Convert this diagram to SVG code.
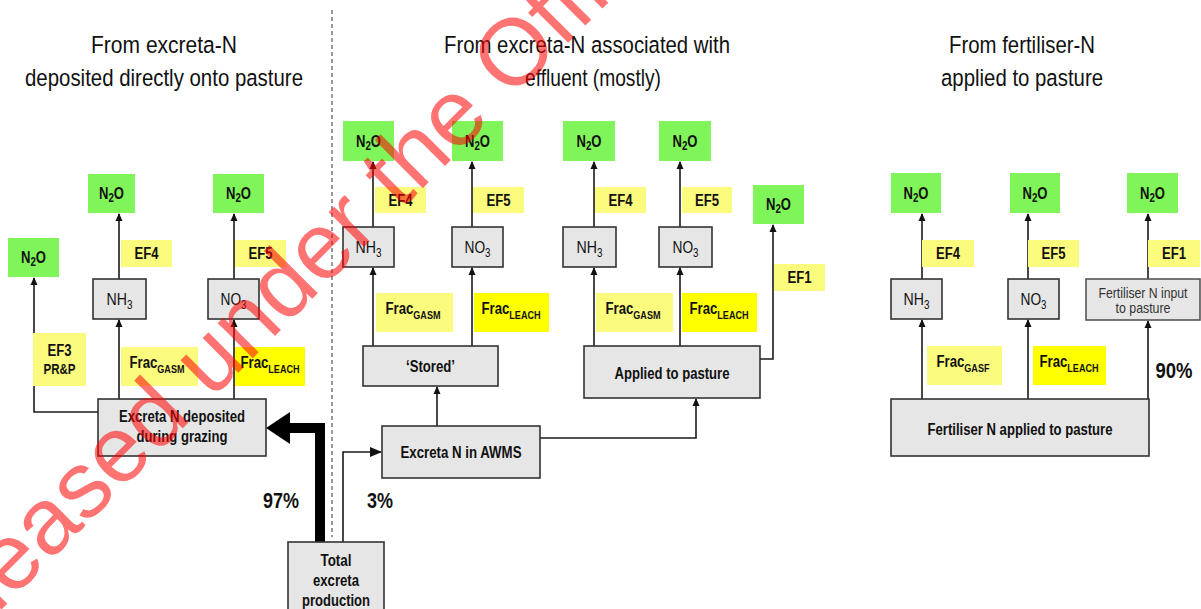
<svg xmlns="http://www.w3.org/2000/svg" width="1201" height="609" viewBox="0 0 1201 609">
<defs>
<marker id="ah" markerWidth="8" markerHeight="8" refX="7" refY="4" orient="auto" markerUnits="userSpaceOnUse">
<path d="M0,0.5 L8,4 L0,7.5 z" fill="#111"/>
</marker>
<marker id="ahb" markerWidth="12" markerHeight="12" refX="11" refY="6" orient="auto" markerUnits="userSpaceOnUse">
<path d="M0,1 L12,6 L0,11 z" fill="#111"/>
</marker>
<style>
text{font-family:"Liberation Sans",Arial,sans-serif;fill:#111}
.t{font-size:24.5px;text-anchor:middle}
.g{fill:#80f55a}
.y{fill:#fbfb7d}
.yy{fill:#ffff00}
.b{fill:#e6e6e6;stroke:#333;stroke-width:1.6}
.lb{font-size:16px;font-weight:bold;text-anchor:middle}
.ch{font-size:17px;text-anchor:middle}
.sub{font-size:11px}
.s2{font-size:12px}
.c{fill:none;stroke:#1a1a1a;stroke-width:1.6}
.pc{font-size:22px;font-weight:bold;text-anchor:middle}
.wm{font-family:"Liberation Sans",Arial,sans-serif;font-size:94px;fill:#ff0000;fill-opacity:0.55}
</style>
</defs>
<rect width="1201" height="609" fill="#fff"/>

<g id="titles">
<text class="t" x="164" y="53" textLength="146" lengthAdjust="spacingAndGlyphs">From excreta-N</text>
<text class="t" x="164" y="86" textLength="278" lengthAdjust="spacingAndGlyphs">deposited directly onto pasture</text>
<text class="t" x="587" y="53" textLength="286" lengthAdjust="spacingAndGlyphs">From excreta-N associated with</text>
<text class="t" x="593" y="86" textLength="136" lengthAdjust="spacingAndGlyphs">effluent (mostly)</text>
<text class="t" x="1022" y="53" textLength="146" lengthAdjust="spacingAndGlyphs">From fertiliser-N</text>
<text class="t" x="1022" y="86" textLength="162" lengthAdjust="spacingAndGlyphs">applied to pasture</text>
</g>
<line id="divider" x1="332" y1="10" x2="332" y2="537" stroke="#555" stroke-width="1.2" stroke-dasharray="4 3"/>

<g id="connectors">
<path class="c" d="M119,399 V320" marker-end="url(#ah)"/>
<path class="c" d="M119,279 V214" marker-end="url(#ah)"/>
<path class="c" d="M234,399 V320" marker-end="url(#ah)"/>
<path class="c" d="M234,279 V214" marker-end="url(#ah)"/>
<path class="c" d="M98,412 H34 V278" marker-end="url(#ah)"/>
<path d="M320,542 V428 H289" fill="none" stroke="#000" stroke-width="10"/>
<polygon points="290,412 266,428 290,444" fill="#000"/>
<path class="c" d="M343,542 V452 H381" stroke-width="2.4" marker-end="url(#ahb)"/>
<path class="c" d="M373,346 V268" marker-end="url(#ah)"/>
<path class="c" d="M373,227 V162" marker-end="url(#ah)"/>
<path class="c" d="M472,346 V268" marker-end="url(#ah)"/>
<path class="c" d="M472,227 V162" marker-end="url(#ah)"/>
<path class="c" d="M437,426 V387" marker-end="url(#ah)"/>
<path class="c" d="M540,438 H696 V399" marker-end="url(#ah)"/>
<path class="c" d="M594,346 V268" marker-end="url(#ah)"/>
<path class="c" d="M594,227 V162" marker-end="url(#ah)"/>
<path class="c" d="M680,346 V268" marker-end="url(#ah)"/>
<path class="c" d="M680,227 V162" marker-end="url(#ah)"/>
<path class="c" d="M760,359 H773 V225" marker-end="url(#ah)"/>
<path class="c" d="M922,399 V320" marker-end="url(#ah)"/>
<path class="c" d="M922,279 V214" marker-end="url(#ah)"/>
<path class="c" d="M1028,399 V320" marker-end="url(#ah)"/>
<path class="c" d="M1028,279 V214" marker-end="url(#ah)"/>
<path class="c" d="M1148,399 V321" marker-end="url(#ah)"/>
<path class="c" d="M1148,279 V214" marker-end="url(#ah)"/>
</g>

<!-- Left section -->
<g id="n2o-l1"><rect class="g" x="8" y="238" width="51" height="39"/><text class="lb" x="33.5" y="263" textLength="25" lengthAdjust="spacingAndGlyphs">N<tspan class="s2" dy="3">2</tspan><tspan dy="-3">O</tspan></text></g>
<g id="n2o-l2"><rect class="g" x="88" y="174" width="47" height="39"/><text class="lb" x="111.5" y="199" textLength="25" lengthAdjust="spacingAndGlyphs">N<tspan class="s2" dy="3">2</tspan><tspan dy="-3">O</tspan></text></g>
<g id="n2o-l3"><rect class="g" x="213" y="174" width="51" height="39"/><text class="lb" x="238.5" y="199" textLength="25" lengthAdjust="spacingAndGlyphs">N<tspan class="s2" dy="3">2</tspan><tspan dy="-3">O</tspan></text></g>
<g id="ef4-l"><rect class="y" x="121" y="240" width="51" height="27"/><text class="lb" x="146.5" y="259" textLength="24" lengthAdjust="spacingAndGlyphs">EF4</text></g>
<g id="ef5-l"><rect class="y" x="235" y="240" width="51" height="27"/><text class="lb" x="260.5" y="259" textLength="24" lengthAdjust="spacingAndGlyphs">EF5</text></g>
<g id="nh3-l"><rect class="b" x="93" y="279" width="53" height="40"/><text class="ch" x="119.5" y="305" textLength="26" lengthAdjust="spacingAndGlyphs">NH<tspan class="s2" dy="4">3</tspan></text></g>
<g id="no3-l"><rect class="b" x="208" y="279" width="51" height="40"/><text class="ch" x="233.5" y="305" textLength="26" lengthAdjust="spacingAndGlyphs">NO<tspan class="s2" dy="4">3</tspan></text></g>
<g id="ef3-l"><rect class="y" x="33" y="333" width="53" height="53"/><text class="lb" x="59.5" y="356" textLength="24" lengthAdjust="spacingAndGlyphs">EF3</text><text class="lb" x="59.5" y="374" style="font-size:14px" textLength="32" lengthAdjust="spacingAndGlyphs">PR&amp;P</text></g>
<g id="fracgasm-l"><rect class="y" x="121" y="347" width="77" height="39"/><text class="lb" x="157" y="368" textLength="55" lengthAdjust="spacingAndGlyphs">Frac<tspan class="sub" dy="5">GASM</tspan></text></g>
<g id="fracleach-l"><rect class="yy" x="235" y="347" width="70" height="39"/><text class="lb" x="270" y="368" textLength="59" lengthAdjust="spacingAndGlyphs">Frac<tspan class="sub" dy="5">LEACH</tspan></text></g>
<g id="excreta-grazing"><rect class="b" x="98" y="399" width="168" height="57"/><text class="lb" x="182" y="422" textLength="126" lengthAdjust="spacingAndGlyphs">Excreta N deposited</text><text class="lb" x="182" y="442" textLength="91" lengthAdjust="spacingAndGlyphs">during grazing</text></g>
<g id="total"><rect class="b" x="288" y="542" width="96" height="80"/><text class="lb" x="336" y="566" textLength="31" lengthAdjust="spacingAndGlyphs">Total</text><text class="lb" x="336" y="586" textLength="46" lengthAdjust="spacingAndGlyphs">excreta</text><text class="lb" x="336" y="606" textLength="68" lengthAdjust="spacingAndGlyphs">production</text></g>
<g id="pct97"><text class="pc" x="281" y="508" textLength="36" lengthAdjust="spacingAndGlyphs">97%</text></g>
<g id="pct3"><text class="pc" x="380" y="508" textLength="26" lengthAdjust="spacingAndGlyphs">3%</text></g>

<!-- Middle section -->
<g id="n2o-m1"><rect class="g" x="343" y="121" width="51" height="40"/><text class="lb" x="368.5" y="147" textLength="25" lengthAdjust="spacingAndGlyphs">N<tspan class="s2" dy="3">2</tspan><tspan dy="-3">O</tspan></text></g>
<g id="n2o-m2"><rect class="g" x="452" y="121" width="51" height="40"/><text class="lb" x="477.5" y="147" textLength="25" lengthAdjust="spacingAndGlyphs">N<tspan class="s2" dy="3">2</tspan><tspan dy="-3">O</tspan></text></g>
<g id="n2o-m3"><rect class="g" x="563" y="121" width="52" height="40"/><text class="lb" x="589" y="147" textLength="25" lengthAdjust="spacingAndGlyphs">N<tspan class="s2" dy="3">2</tspan><tspan dy="-3">O</tspan></text></g>
<g id="n2o-m4"><rect class="g" x="659" y="121" width="52" height="40"/><text class="lb" x="685" y="147" textLength="25" lengthAdjust="spacingAndGlyphs">N<tspan class="s2" dy="3">2</tspan><tspan dy="-3">O</tspan></text></g>
<g id="n2o-m5"><rect class="g" x="753" y="185" width="51" height="39"/><text class="lb" x="778.5" y="210" textLength="25" lengthAdjust="spacingAndGlyphs">N<tspan class="s2" dy="3">2</tspan><tspan dy="-3">O</tspan></text></g>
<g id="ef4-m1"><rect class="y" x="375" y="187" width="51" height="26"/><text class="lb" x="400.5" y="206" textLength="24" lengthAdjust="spacingAndGlyphs">EF4</text></g>
<g id="ef5-m1"><rect class="y" x="473" y="187" width="51" height="26"/><text class="lb" x="498.5" y="206" textLength="24" lengthAdjust="spacingAndGlyphs">EF5</text></g>
<g id="ef4-m2"><rect class="y" x="595" y="187" width="51" height="26"/><text class="lb" x="620.5" y="206" textLength="24" lengthAdjust="spacingAndGlyphs">EF4</text></g>
<g id="ef5-m2"><rect class="y" x="682" y="187" width="50" height="26"/><text class="lb" x="707" y="206" textLength="24" lengthAdjust="spacingAndGlyphs">EF5</text></g>
<g id="nh3-m1"><rect class="b" x="343" y="227" width="51" height="40"/><text class="ch" x="368.5" y="253" textLength="26" lengthAdjust="spacingAndGlyphs">NH<tspan class="s2" dy="4">3</tspan></text></g>
<g id="no3-m1"><rect class="b" x="452" y="227" width="51" height="40"/><text class="ch" x="477.5" y="253" textLength="26" lengthAdjust="spacingAndGlyphs">NO<tspan class="s2" dy="4">3</tspan></text></g>
<g id="nh3-m2"><rect class="b" x="563" y="227" width="53" height="40"/><text class="ch" x="589.5" y="253" textLength="26" lengthAdjust="spacingAndGlyphs">NH<tspan class="s2" dy="4">3</tspan></text></g>
<g id="no3-m2"><rect class="b" x="659" y="227" width="53" height="40"/><text class="ch" x="685.5" y="253" textLength="26" lengthAdjust="spacingAndGlyphs">NO<tspan class="s2" dy="4">3</tspan></text></g>
<g id="ef1-m"><rect class="y" x="774" y="264" width="51" height="27"/><text class="lb" x="799.5" y="283" textLength="24" lengthAdjust="spacingAndGlyphs">EF1</text></g>
<g id="fracgasm-m1"><rect class="y" x="376" y="293" width="77" height="39"/><text class="lb" x="413" y="314" textLength="55" lengthAdjust="spacingAndGlyphs">Frac<tspan class="sub" dy="5">GASM</tspan></text></g>
<g id="fracleach-m1"><rect class="yy" x="474" y="293" width="75" height="39"/><text class="lb" x="511" y="314" textLength="59" lengthAdjust="spacingAndGlyphs">Frac<tspan class="sub" dy="5">LEACH</tspan></text></g>
<g id="fracgasm-m2"><rect class="y" x="596" y="293" width="77" height="39"/><text class="lb" x="633" y="314" textLength="55" lengthAdjust="spacingAndGlyphs">Frac<tspan class="sub" dy="5">GASM</tspan></text></g>
<g id="fracleach-m2"><rect class="yy" x="682" y="293" width="75" height="39"/><text class="lb" x="719" y="314" textLength="59" lengthAdjust="spacingAndGlyphs">Frac<tspan class="sub" dy="5">LEACH</tspan></text></g>
<g id="stored"><rect class="b" x="363" y="346" width="135" height="40"/><text class="lb" x="430.5" y="372" textLength="49" lengthAdjust="spacingAndGlyphs">‘Stored’</text></g>
<g id="applied"><rect class="b" x="584" y="346" width="176" height="52"/><text class="lb" x="672" y="379" textLength="115" lengthAdjust="spacingAndGlyphs">Applied to pasture</text></g>
<g id="awms"><rect class="b" x="382" y="426" width="158" height="52"/><text class="lb" x="461" y="458" textLength="121" lengthAdjust="spacingAndGlyphs">Excreta N in AWMS</text></g>

<!-- Right section -->
<g id="n2o-r1"><rect class="g" x="891" y="173" width="50" height="40"/><text class="lb" x="916" y="199" textLength="25" lengthAdjust="spacingAndGlyphs">N<tspan class="s2" dy="3">2</tspan><tspan dy="-3">O</tspan></text></g>
<g id="n2o-r2"><rect class="g" x="1010" y="173" width="50" height="40"/><text class="lb" x="1035" y="199" textLength="25" lengthAdjust="spacingAndGlyphs">N<tspan class="s2" dy="3">2</tspan><tspan dy="-3">O</tspan></text></g>
<g id="n2o-r3"><rect class="g" x="1127" y="173" width="51" height="40"/><text class="lb" x="1152.5" y="199" textLength="25" lengthAdjust="spacingAndGlyphs">N<tspan class="s2" dy="3">2</tspan><tspan dy="-3">O</tspan></text></g>
<g id="ef4-r"><rect class="y" x="922" y="240" width="52" height="27"/><text class="lb" x="948" y="259" textLength="24" lengthAdjust="spacingAndGlyphs">EF4</text></g>
<g id="ef5-r"><rect class="y" x="1028" y="240" width="51" height="27"/><text class="lb" x="1053.5" y="259" textLength="24" lengthAdjust="spacingAndGlyphs">EF5</text></g>
<g id="ef1-r"><rect class="y" x="1148" y="240" width="52" height="27"/><text class="lb" x="1174" y="259" textLength="24" lengthAdjust="spacingAndGlyphs">EF1</text></g>
<g id="nh3-r"><rect class="b" x="891" y="279" width="51" height="40"/><text class="ch" x="916.5" y="305" textLength="26" lengthAdjust="spacingAndGlyphs">NH<tspan class="s2" dy="4">3</tspan></text></g>
<g id="no3-r"><rect class="b" x="1008" y="279" width="51" height="40"/><text class="ch" x="1033.5" y="305" textLength="26" lengthAdjust="spacingAndGlyphs">NO<tspan class="s2" dy="4">3</tspan></text></g>
<g id="fert-input"><rect class="b" x="1086" y="279" width="114" height="41" style="stroke:#555"/><text x="1143" y="298" style="font-size:15px;text-anchor:middle;fill:#333" textLength="89" lengthAdjust="spacingAndGlyphs">Fertiliser N input</text><text x="1143" y="313" style="font-size:15px;text-anchor:middle;fill:#333" textLength="55" lengthAdjust="spacingAndGlyphs">to pasture</text></g>
<g id="fracgasf-r"><rect class="y" x="927" y="346" width="75" height="39"/><text class="lb" x="963" y="367" textLength="53" lengthAdjust="spacingAndGlyphs">Frac<tspan class="sub" dy="5">GASF</tspan></text></g>
<g id="fracleach-r"><rect class="yy" x="1033" y="346" width="73" height="39"/><text class="lb" x="1069" y="367" textLength="59" lengthAdjust="spacingAndGlyphs">Frac<tspan class="sub" dy="5">LEACH</tspan></text></g>
<g id="pct90"><text class="pc" x="1174" y="378" textLength="37" lengthAdjust="spacingAndGlyphs">90%</text></g>
<g id="fert-applied"><rect class="b" x="891" y="399" width="258" height="57"/><text class="lb" x="1020" y="435" textLength="185" lengthAdjust="spacingAndGlyphs">Fertiliser N applied to pasture</text></g>

<text class="wm" transform="translate(-88,699) rotate(-45)">Released under the Official Information Act</text>
</svg>
